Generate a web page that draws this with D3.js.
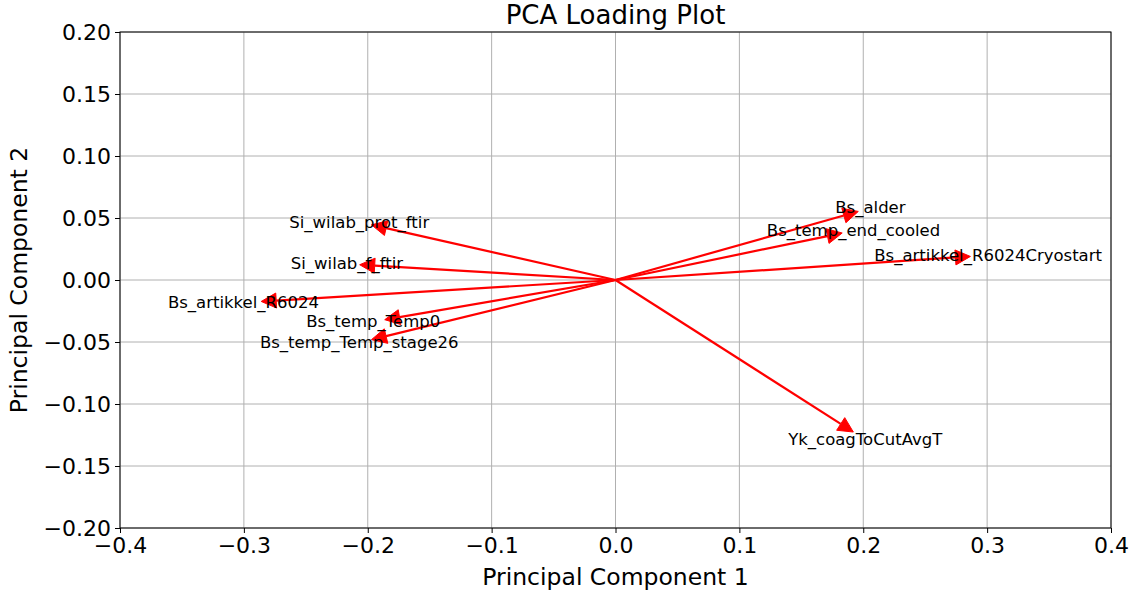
<!DOCTYPE html>
<html>
<head>
<meta charset="utf-8">
<script src="https://cdn.jsdelivr.net/npm/d3@7"></script>
<style>
  body { margin: 0; background: #fff; }
  svg text { font-family: "DejaVu Sans", sans-serif; fill: #000; }
</style>
</head>
<body>
<div id="chart"></div>
<script>
// loadings (arrow tip positions)
var featureNames = [
    "Si_wilab_prot_ftir", "Si_wilab_f_ftir", "Bs_artikkel_R6024", "Bs_temp_Temp0",
    "Bs_temp_Temp_stage26", "Bs_alder", "Bs_temp_end_cooled",
    "Bs_artikkel_R6024Cryostart", "Yk_coagToCutAvgT"
];
var pc1 = [-0.197, -0.2065, -0.286, -0.1863, -0.197, 0.196, 0.183, 0.2865, 0.192];
var pc2 = [0.0445, 0.0123, -0.0173, -0.032, -0.0481, 0.0553, 0.0379, 0.019, -0.1226];

var xTicks = [-0.4, -0.3, -0.2, -0.1, 0.0, 0.1, 0.2, 0.3, 0.4];
var yTicks = [-0.20, -0.15, -0.10, -0.05, 0.00, 0.05, 0.10, 0.15, 0.20];

function createLoadingPlot() {
    var margin = { top: 32, right: 25, bottom: 65, left: 120 };
    var width = 1136 - margin.left - margin.right;
    var height = 593 - margin.top - margin.bottom;

    var svg = d3.select("#chart")
        .append("svg")
        .attr("width", 1136)
        .attr("height", 593)
        .append("g")
        .attr("transform", "translate(" + margin.left + "," + margin.top + ")");

    var x = d3.scaleLinear().domain([-0.4, 0.4]).range([0, width]);
    var y = d3.scaleLinear().domain([-0.2, 0.2]).range([height, 0]);

    var minus = function (s) { return s.replace("-", "\u2212"); };

    // grid
    svg.append("g").selectAll("line").data(xTicks).enter().append("line")
        .attr("x1", function (d) { return x(d); }).attr("x2", function (d) { return x(d); })
        .attr("y1", 0).attr("y2", height)
        .style("stroke", "#b0b0b0").style("stroke-width", 1);
    svg.append("g").selectAll("line").data(yTicks).enter().append("line")
        .attr("y1", function (d) { return y(d); }).attr("y2", function (d) { return y(d); })
        .attr("x1", 0).attr("x2", width)
        .style("stroke", "#b0b0b0").style("stroke-width", 1);

    // axes
    var xAxis = svg.append("g")
        .attr("transform", "translate(0," + height + ")")
        .call(d3.axisBottom(x).tickValues(xTicks).tickSize(5).tickPadding(4)
            .tickFormat(function (d) { return minus(d3.format(".1f")(d)); }));
    var yAxis = svg.append("g")
        .call(d3.axisLeft(y).tickValues(yTicks).tickSize(5).tickPadding(4)
            .tickFormat(function (d) { return minus(d3.format(".2f")(d)); }));
    [xAxis, yAxis].forEach(function (a) {
        a.select(".domain").remove();
        a.selectAll("text").style("font-size", "22px").style("font-family", "DejaVu Sans");
        a.selectAll("line").style("stroke", "#000");
    });

    // frame
    svg.append("rect").attr("width", width).attr("height", height)
        .style("fill", "none").style("stroke", "#000").style("stroke-width", 1);

    var data = featureNames.map(function (n, i) { return { name: n, x: pc1[i], y: pc2[i] }; });

    // arrows
    var headLen = 15, headW = 15;
    var g = svg.append("g");
    data.forEach(function (d) {
        var x0 = x(0), y0 = y(0), x1 = x(d.x), y1 = y(d.y);
        var dx = x1 - x0, dy = y1 - y0, len = Math.sqrt(dx * dx + dy * dy);
        var ux = dx / len, uy = dy / len;
        var bx = x1 - ux * headLen, by = y1 - uy * headLen;
        g.append("line")
            .attr("x1", x0).attr("y1", y0).attr("x2", bx).attr("y2", by)
            .style("stroke", "red").style("stroke-width", 2.2);
        g.append("polygon")
            .attr("points", [
                [x1, y1],
                [bx - uy * headW / 2, by + ux * headW / 2],
                [bx + uy * headW / 2, by - ux * headW / 2]
            ].map(function (p) { return p.join(","); }).join(" "))
            .style("fill", "red").style("stroke", "red").style("stroke-width", 1);
    });

    // labels
    svg.append("g").selectAll("text").data(data).enter().append("text")
        .attr("x", function (d) { return x(d.x * 1.05); })
        .attr("y", function (d) { return y(d.y * 1.05); })
        .attr("text-anchor", "middle")
        .attr("dominant-baseline", "central")
        .style("font-size", "16.5px")
        .text(function (d) { return d.name; });

    // titles
    svg.append("text").attr("x", width / 2).attr("y", -8)
        .attr("text-anchor", "middle").style("font-size", "26px").text("PCA Loading Plot");
    svg.append("text").attr("x", width / 2).attr("y", height + 57)
        .attr("text-anchor", "middle").style("font-size", "23.5px").text("Principal Component 1");
    svg.append("text")
        .attr("transform", "translate(" + (-93) + "," + (height / 2) + ") rotate(-90)")
        .attr("text-anchor", "middle").style("font-size", "23.5px").text("Principal Component 2");
}

createLoadingPlot();
</script>
</body>
</html>
